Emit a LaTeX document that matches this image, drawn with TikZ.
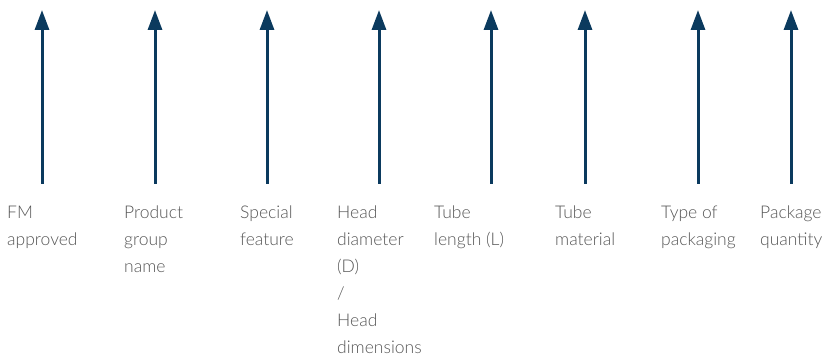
\documentclass[tikz,border=0pt]{standalone}
\usepackage{fontspec}
\setmainfont{Lato Light}
\usetikzlibrary{arrows.meta}
\definecolor{navy}{HTML}{0B3A5E}
\definecolor{txtgray}{HTML}{555555}

\begin{document}
\begin{tikzpicture}[x=1pt,y=-1pt]
\tikzstyle{every node} = [inner sep=0, anchor=north west, align=left, text=txtgray, font=\fontsize{17.5}{27}\selectfont]
\tikzstyle{pointer} = [draw=navy, line width=3, -{Triangle[width=14,length=20]}]
\useasboundingbox (0,0) rectangle (823,358);
\coordinate (fm_b) at (42,184);
\coordinate (fm_t) at (42,10);
\coordinate (grp_b) at (155,184);
\coordinate (grp_t) at (155,10);
\coordinate (feat_b) at (267,184);
\coordinate (feat_t) at (267,10);
\coordinate (head_b) at (379,184);
\coordinate (head_t) at (379,10);
\coordinate (len_b) at (491,184);
\coordinate (len_t) at (491,10);
\coordinate (mat_b) at (585,184);
\coordinate (mat_t) at (585,10);
\coordinate (pack_b) at (698,184);
\coordinate (pack_t) at (698,10);
\coordinate (qty_b) at (791,184);
\coordinate (qty_t) at (791,10);
\node (fm) at (7,206) {FM\\approved};
\node (grp) at (124,206) {Product\\group\\name};
\node (feat) at (240,206) {Special\\feature};
\node (head) at (337,206) {Head\\diameter\\(D)\\/\\Head\\dimensions};
\node (len) at (434,206) {Tube\\length (L)};
\node (mat) at (555,206) {Tube\\material};
\node (pack) at (661,206) {Type of\\packaging};
\node (qty) at (760,206) {Package\\quantity};
\draw[pointer] (fm_b) -- (fm_t);
\draw[pointer] (grp_b) -- (grp_t);
\draw[pointer] (feat_b) -- (feat_t);
\draw[pointer] (head_b) -- (head_t);
\draw[pointer] (len_b) -- (len_t);
\draw[pointer] (mat_b) -- (mat_t);
\draw[pointer] (pack_b) -- (pack_t);
\draw[pointer] (qty_b) -- (qty_t);
\end{tikzpicture}
\end{document}
